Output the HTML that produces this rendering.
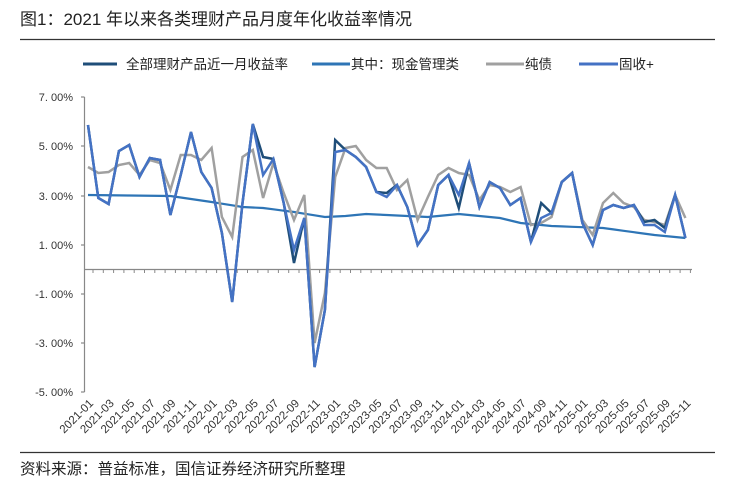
<!DOCTYPE html>
<html><head><meta charset="utf-8"><style>
body{margin:0;background:#fff;width:748px;height:492px;overflow:hidden;font-family:"Liberation Sans","Noto Sans CJK SC",sans-serif}
</style></head><body>
<svg width="748" height="492" xmlns="http://www.w3.org/2000/svg" font-family="Liberation Sans, Noto Sans CJK SC, sans-serif">
<text x="20" y="25" font-size="17" fill="#222">图1：2021 年以来各类理财产品月度年化收益率情况</text>
<line x1="20" y1="39.5" x2="715" y2="39.5" stroke="#333" stroke-width="1.2"/>
<g font-size="13.5" fill="#222">
<line x1="83" y1="64" x2="117" y2="64" stroke="#1f4e79" stroke-width="3"/><text x="126" y="69">全部理财产品近一月收益率</text>
<line x1="312" y1="64" x2="350" y2="64" stroke="#2e75b6" stroke-width="3"/><text x="351" y="69">其中：现金管理类</text>
<line x1="486" y1="64" x2="524" y2="64" stroke="#a0a0a0" stroke-width="3"/><text x="525" y="69">纯债</text>
<line x1="579" y1="64" x2="618" y2="64" stroke="#4472c4" stroke-width="3"/><text x="619" y="69">固收+</text>
</g>
<g stroke="#888" stroke-width="1.2">
<line x1="84.5" y1="97" x2="84.5" y2="392"/>
<line x1="81" y1="97" x2="84.5" y2="97"/><line x1="81" y1="146" x2="84.5" y2="146"/><line x1="81" y1="196" x2="84.5" y2="196"/><line x1="81" y1="245" x2="84.5" y2="245"/><line x1="81" y1="294" x2="84.5" y2="294"/><line x1="81" y1="343" x2="84.5" y2="343"/><line x1="81" y1="392" x2="84.5" y2="392"/>
<line x1="84.5" y1="269.5" x2="692" y2="269.5"/>
</g>
<g id="tk" stroke="#888" stroke-width="1"></g>
<g font-size="11" fill="#333" text-anchor="end">
<text x="73" y="101">7. 00%</text><text x="73" y="150">5. 00%</text><text x="73" y="200">3. 00%</text><text x="73" y="249">1. 00%</text><text x="73" y="298">-1. 00%</text><text x="73" y="347">-3. 00%</text><text x="73" y="396">-5. 00%</text>
</g>
<g id="xl" font-size="11.5" fill="#333" text-anchor="end"></g>
<polyline id="cash" fill="none" stroke="#2e75b6" stroke-width="2.2"/>
<polyline id="gray" fill="none" stroke="#a0a0a0" stroke-width="2.5"/>
<polyline id="all" fill="none" stroke="#1f4e79" stroke-width="2.5"/>
<polyline id="fix" fill="none" stroke="#4472c4" stroke-width="2.5"/>
<line x1="20" y1="452.5" x2="715" y2="452.5" stroke="#333" stroke-width="1.2"/>
<text x="20" y="474" font-size="15.5" fill="#222">资料来源：普益标准，国信证券经济研究所整理</text>
</svg>
<script>
var X=i=>88+i*10.3;
var all=[125,198,204,151,145,177,158,160,215,175,132,172,188,233,302,203,124,157,159,203,263,218,367,310,140,150,157,167,192,193,185,207,245,230,185,175,208,163,207,182,188,205,198,242,203,213,182,173,223,245,210,205,208,205,222,220,228,195,238];
var fix=[125,198,204,151,145,177,158,160,215,175,132,172,188,233,302,203,124,175,159,203,250,218,367,310,152,150,157,167,192,197,185,207,245,230,185,175,195,163,207,182,188,205,198,242,218,213,182,173,223,245,210,205,208,205,225,225,232,195,238];
var gray=[167,173,172,165,163,175,160,163,190,155,155,160,148,217,237,157,150,198,163,193,220,195,343,293,177,148,146,160,168,168,190,180,220,197,175,168,173,175,200,185,187,192,187,225,223,217,182,173,220,235,203,193,203,207,220,222,225,195,218];
var ck={0:195,8:196,12:202,15:207,17:208,20:212,23:217,25:216,27:214,29:215,33:217,36:214,40:218,42:223,45:226,50:228,55:235,57:237,58:238};
var keys=Object.keys(ck).map(Number),cash=[];
for(var i=0;i<59;i++){for(var k=0;k<keys.length-1;k++){if(i>=keys[k]&&i<=keys[k+1]){var a=keys[k],b=keys[k+1];cash[i]=ck[a]+(ck[b]-ck[a])*(i-a)/(b-a);break;}}}
function pts(arr){return arr.map((y,i)=>X(i).toFixed(1)+','+y).join(' ');}
document.getElementById('all').setAttribute('points',pts(all));
document.getElementById('fix').setAttribute('points',pts(fix));
document.getElementById('gray').setAttribute('points',pts(gray));
document.getElementById('cash').setAttribute('points',pts(cash));
var ns="http://www.w3.org/2000/svg",tk=document.getElementById('tk'),xl=document.getElementById('xl');
for(var i=0;i<59;i++){var l=document.createElementNS(ns,'line');var x=X(i)+5;l.setAttribute('x1',x);l.setAttribute('x2',x);l.setAttribute('y1',269.5);l.setAttribute('y2',273);tk.appendChild(l);}
for(var i=0;i<59;i+=2){var y=2021+Math.floor(i/12),m=i%12+1;var t=document.createElementNS(ns,'text');var x=X(i)+6,yy=404;t.setAttribute('x',x);t.setAttribute('y',yy);t.setAttribute('transform','rotate(-45 '+x+' '+yy+')');t.textContent=y+'-'+(m<10?'0':'')+m;xl.appendChild(t);}
</script>
</body></html>
